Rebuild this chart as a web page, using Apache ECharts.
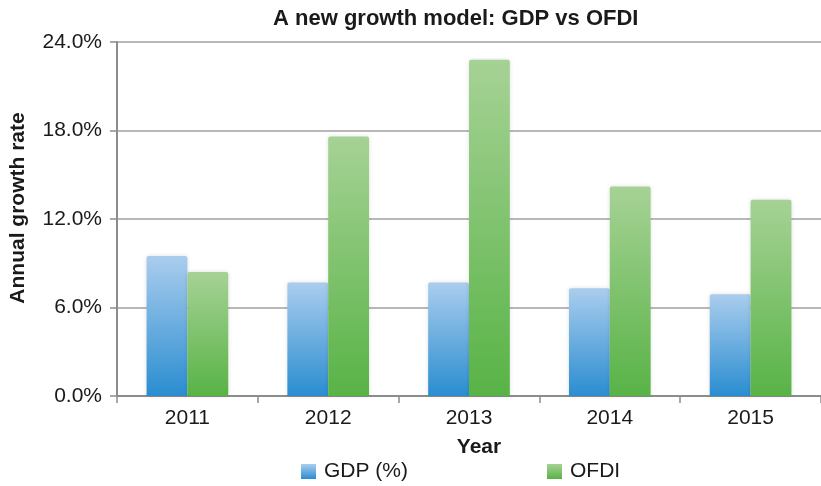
<!DOCTYPE html>
<html>
<head>
<meta charset="utf-8">
<script src="https://cdn.jsdelivr.net/npm/echarts@6/dist/echarts.min.js"></script>
<style>
  html, body { margin: 0; padding: 0; background: #ffffff; }
  #chart { width: 821px; height: 486px; }
</style>
</head>
<body>
<div id="chart"></div>
<script>
// Annual growth rates (%), by year
const years = ['2011', '2012', '2013', '2014', '2015'];
const gdpGrowth = [9.5, 7.7, 7.7, 7.3, 6.9];
const ofdiGrowth = [8.4, 17.6, 22.8, 14.2, 13.3];
const yTicks = [0, 6, 12, 18, 24];

const FONT = '"Liberation Sans", Arial, Helvetica, sans-serif';

function vGrad(top, bottom) {
  return new echarts.graphic.LinearGradient(0, 0, 0, 1, [
    { offset: 0, color: top },
    { offset: 1, color: bottom }
  ]);
}

const gdpColor = vGrad('#aacdee', '#2a8dd0');
const ofdiColor = vGrad('#a6d295', '#58b346');

const chart = echarts.init(document.getElementById('chart'), null, { renderer: 'canvas' });

const legendBase = {
  top: 456,
  icon: 'rect',
  itemWidth: 15,
  itemHeight: 15,
  itemGap: 0,
  textStyle: { fontFamily: FONT, fontSize: 21, color: '#1a1a1a', padding: [0, 0, 0, 3] }
};

chart.setOption({
  backgroundColor: '#ffffff',
  animation: false,
  textStyle: { fontFamily: FONT },
  title: {
    text: 'A new growth model: GDP vs OFDI',
    left: 268,
    top: 3,
    textStyle: { fontFamily: FONT, fontSize: 22, fontWeight: 'bold', color: '#1a1a1a' }
  },
  legend: [
    Object.assign({ data: ['GDP (%)'], left: 296 }, legendBase),
    Object.assign({ data: ['OFDI'], left: 542 }, legendBase)
  ],
  grid: { left: 115, top: 42, width: 708, bottom: 90, containLabel: false },
  xAxis: {
    type: 'category',
    data: years,
    name: 'Year',
    nameLocation: 'middle',
    nameGap: 41,
    nameTextStyle: { fontFamily: FONT, fontSize: 21, fontWeight: 'bold', color: '#1a1a1a', padding: [0, 0, 0, 20] },
    axisLine: { lineStyle: { color: '#8c8c8c', width: 2 } },
    axisTick: { show: true, length: 7, lineStyle: { color: '#8c8c8c', width: 1.5 } },
    axisLabel: { fontFamily: FONT, fontSize: 21, color: '#1a1a1a', margin: 12 }
  },
  yAxis: {
    type: 'value',
    min: yTicks[0],
    max: yTicks[yTicks.length - 1],
    interval: yTicks[1] - yTicks[0],
    name: 'Annual growth rate',
    nameLocation: 'middle',
    nameGap: 88,
    nameTextStyle: { fontFamily: FONT, fontSize: 21, fontWeight: 'bold', color: '#1a1a1a', padding: [0, 0, 0, 22] },
    axisLine: { show: true, lineStyle: { color: '#8c8c8c', width: 2 } },
    axisTick: { show: true, length: 7, lineStyle: { color: '#8c8c8c', width: 1.5 } },
    splitLine: { lineStyle: { color: '#a0a0a0', width: 1.5 } },
    axisLabel: {
      fontFamily: FONT, fontSize: 21, color: '#1a1a1a', margin: 15,
      formatter: v => v.toFixed(1) + '%'
    }
  },
  series: [
    {
      name: 'GDP (%)',
      type: 'bar',
      data: gdpGrowth,
      barGap: '0%',
      barCategoryGap: '42%',
      itemStyle: {
        color: gdpColor,
        borderRadius: [2, 2, 0, 0],
        shadowBlur: 4,
        shadowColor: 'rgba(0,0,0,0.12)'
      }
    },
    {
      name: 'OFDI',
      type: 'bar',
      data: ofdiGrowth,
      barGap: '0%',
      barCategoryGap: '42%',
      itemStyle: {
        color: ofdiColor,
        borderRadius: [2, 2, 0, 0],
        shadowBlur: 4,
        shadowColor: 'rgba(0,0,0,0.12)'
      }
    }
  ]
});
</script>
</body>
</html>
